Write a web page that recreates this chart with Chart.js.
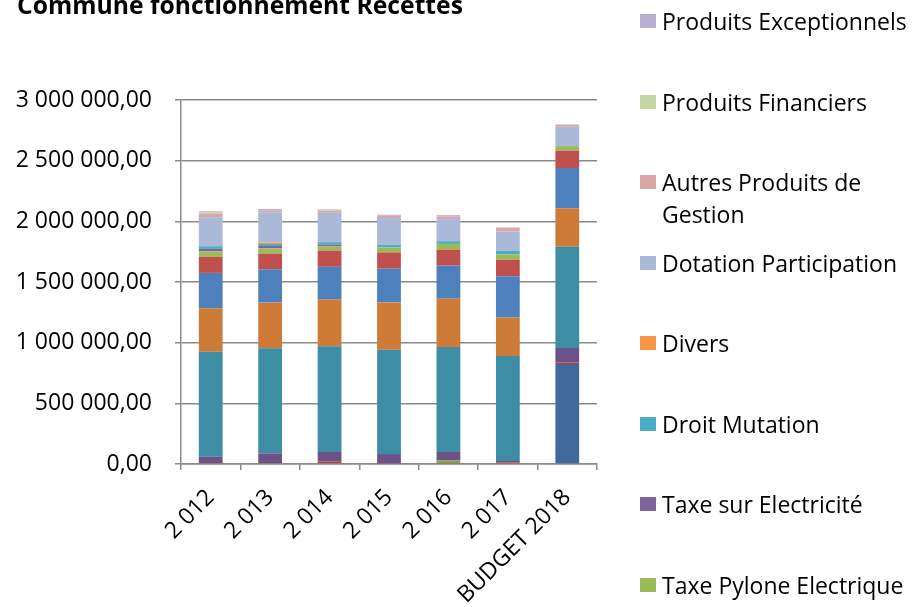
<!DOCTYPE html>
<html>
<head>
<meta charset="utf-8">
<script src="https://cdn.jsdelivr.net/npm/chart.js@4/dist/chart.umd.min.js"></script>
<style>
html,body{margin:0;padding:0;background:#fff;}
#wrap{position:relative;width:920px;height:607px;overflow:hidden;font-family:'Open Sans',sans-serif;color:#000;}
#chart{position:absolute;left:0;top:0;}
#title{position:absolute;left:17px;top:-7px;font-weight:bold;font-size:24.7px;line-height:24px;white-space:nowrap;}
#legend{position:absolute;left:640px;top:0;width:280px;height:607px;}
.lg{position:absolute;left:0;display:flex;align-items:flex-start;}
.lg i{display:block;flex:none;width:16px;height:14px;margin-top:9px;}
.lg span{margin-left:6px;font-size:23px;line-height:32px;width:256px;}
</style>
</head>
<body>
<div id="wrap">
  <canvas id="chart" width="920" height="607"></canvas>
  <div id="title">Commune fonctionnement Recettes</div>
  <div id="legend"></div>
</div>
<script>
// ===== Data (euros) =====
const categories = ['2 012','2 013','2 014','2 015','2 016','2 017','BUDGET 2018'];

// series below the visible part of the legend (bottom of each stack)
const serie1 = [0, 0, 0, 0, 0, 0, 824000];
const serie2 = [8000, 8000, 19000, 5000, 8000, 14000, 14000];
const serie3 = [0, 0, 0, 0, 22000, 0, 0];
const serie4 = [52000, 80000, 80000, 77000, 69000, 11000, 118000];
const serie5 = [866000, 866000, 871000, 860000, 866000, 866000, 835000];
const serie6 = [358000, 376000, 385000, 390000, 398000, 316000, 316000];
const serie7 = [291000, 275000, 270000, 278000, 272000, 341000, 332000];
const serie8 = [132000, 129000, 134000, 134000, 132000, 135000, 143000];
// series named in the legend
const taxePylone    = [46000, 44000, 36000, 41000, 47000, 44000, 38000];
const taxeElec      = [20000, 19000, 14000, 0, 0, 0, 0];
const droitMutation = [22000, 16000, 19000, 22000, 22000, 30000, 0];
const divers        = [0, 11000, 0, 0, 0, 0, 0];
const dotation      = [239000, 247000, 242000, 220000, 182000, 159000, 159000];
const autresProduits= [30000, 16000, 19000, 19000, 22000, 33000, 19000];
const produitsFin   = [8000, 0, 8000, 0, 0, 0, 0];
const produitsExc   = [11000, 14000, 3000, 8000, 11000, 0, 0];

const yTicks = [0, 500000, 1000000, 1500000, 2000000, 2500000, 3000000];

function $(id){ return document.getElementById(id); }
function fmtFR(v){
  return String(Math.round(v)).replace(/\B(?=(\d{3})+(?!\d))/g,' ') + ',00';
}

const series = [
  { label:'Série 1', data:serie1, color:'#40699c', legend:false },
  { label:'Série 2', data:serie2, color:'#b0453f', legend:false },
  { label:'Série 3', data:serie3, color:'#86a04c', legend:false },
  { label:'Série 4', data:serie4, color:'#6b5289', legend:false },
  { label:'Série 5', data:serie5, color:'#3d8da4', legend:false },
  { label:'Série 6', data:serie6, color:'#cd7b37', legend:false },
  { label:'Série 7', data:serie7, color:'#4e80bd', legend:false },
  { label:'Série 8', data:serie8, color:'#c0504d', legend:false },
  { label:'Taxe Pylone Electrique', data:taxePylone, color:'#9bbb59', legend:true },
  { label:'Taxe sur Electricité', data:taxeElec, color:'#8064a2', legend:true },
  { label:'Droit Mutation', data:droitMutation, color:'#4bacc6', legend:true },
  { label:'Divers', data:divers, color:'#f79646', legend:true },
  { label:'Dotation Participation', data:dotation, color:'#a9b9d7', legend:true },
  { label:'Autres Produits de Gestion', data:autresProduits, color:'#dba7a6', legend:true },
  { label:'Produits Financiers', data:produitsFin, color:'#c5d6a2', legend:true },
  { label:'Produits Exceptionnels', data:produitsExc, color:'#b9afcf', legend:true }
];

Chart.defaults.font.family = "'Open Sans', sans-serif";
Chart.defaults.font.size = 23;
Chart.defaults.color = '#000';

const GRID = '#8a8a8a';

const chart = new Chart($('chart').getContext('2d'), {
  type: 'bar',
  data: {
    labels: categories,
    datasets: series.map(s => ({
      label: s.label,
      data: s.data,
      backgroundColor: s.color,
      borderWidth: 0,
      barPercentage: 0.4,
      categoryPercentage: 1.0,
      showInLegend: s.legend
    }))
  },
  options: {
    responsive: false,
    animation: false,
    layout: { padding: { left: 0, top: 100, right: 323, bottom: 0 } },
    plugins: { legend: { display: false }, tooltip: { enabled: false }, title: { display: false } },
    scales: {
      x: {
        stacked: true,
        offset: true,
        grid: { display: true, offset: true, drawOnChartArea: false, drawTicks: true, tickLength: 6, color: GRID, lineWidth: 1.5 },
        border: { display: true, color: GRID, width: 1.5 },
        ticks: { autoSkip: false, minRotation: 45, maxRotation: 45, padding: 14, font: { size: 23 } },
        afterFit: s => { s.height = 143; }
      },
      y: {
        stacked: true,
        min: 0,
        max: 3000000,
        afterBuildTicks: s => { s.ticks = yTicks.map(v => ({ value: v })); },
        grid: { color: GRID, lineWidth: 1.5, drawTicks: true, tickLength: 6 },
        border: { display: true, color: GRID, width: 1.5 },
        ticks: { padding: 23, callback: v => fmtFR(v), font: { size: 23 } },
        afterFit: s => { s.width = 181; }
      }
    }
  }
});

// ===== Legend (reverse order, like the spreadsheet) =====
const legendRows = [21, 101.5, 182, 262.5, 343, 423.5, 504, 584.5];
const box = $('legend');
chart.data.datasets.filter(d => d.showInLegend).reverse().forEach((d, i) => {
  const row = document.createElement('div');
  row.className = 'lg';
  row.style.top = (legendRows[i] - 16) + 'px';
  row.innerHTML = `<i style="background:${d.backgroundColor}"></i><span>${d.label}</span>`;
  box.appendChild(row);
});
</script>
</body>
</html>
